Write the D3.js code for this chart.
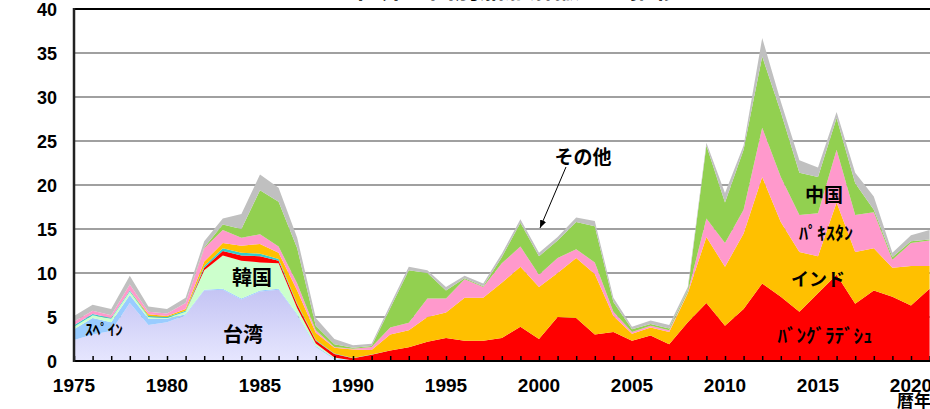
<!DOCTYPE html>
<html><head><meta charset="utf-8">
<script src="https://cdn.jsdelivr.net/npm/d3@7"></script>
<style>body{margin:0;background:#fff;overflow:hidden}svg{display:block}</style>
</head><body>
<script>
// ---- data (million GT) ----
const years = d3.range(1975, 2022);
const taiwan     = [2.4,3.0,3.4,6.6,4.1,4.4,5.2,8.0,8.1,7.0,7.9,8.1,5.2,1.6,0.2,0,0,0,0,0,0,0,0,0,0,0,0,0,0,0,0,0,0,0,0,0,0,0,0,0,0,0,0,0,0,0,0];
const spain      = [1.2,1.9,1.0,0.9,0.7,0.4,0.1,0.1,0.1,0.1,0.1,0.1,0.1,0.1,0.1,0.05,0,0,0,0,0,0,0,0,0,0,0,0,0,0,0,0,0,0,0,0,0,0,0,0,0,0,0,0,0,0,0];
const korea      = [0.3,0.3,0.4,0.4,0.2,0.1,0.3,2.2,3.8,4.3,3.2,2.9,0.7,0.3,0.1,0,0,0,0,0,0,0,0,0,0,0,0,0,0,0,0,0,0,0,0,0,0,0,0,0,0,0,0,0,0,0,0];
const bangladesh = [0,0,0,0,0,0,0,0.3,0.5,0.6,0.7,0.3,0.4,0.3,0.4,0.25,0.7,1.2,1.55,2.2,2.6,2.3,2.3,2.6,3.9,2.5,5.0,4.9,3.0,3.3,2.3,2.9,1.9,4.4,6.6,4.0,5.9,8.8,7.3,5.6,7.7,9.8,6.5,8.0,7.3,6.3,8.2];
const turkey     = [0.15,0.15,0.1,0.1,0.1,0.1,0.1,0.2,0.3,0.3,0.3,0.2,0.1,0.1,0.05,0.05,0.05,0,0,0,0,0,0,0,0,0,0,0,0,0,0,0,0,0,0,0,0,0,0,0,0,0,0,0,0,0,0];
const india      = [0,0,0,0,0.2,0.1,0.2,0.5,0.6,0.8,1.1,0.7,1.5,0.8,0.65,0.95,0.5,1.8,1.95,2.8,2.9,4.9,4.9,6.3,6.8,5.9,5.0,6.8,6.9,1.8,0.8,0.9,1.4,3.3,7.5,6.7,8.6,12.1,8.5,6.8,4.2,8.2,5.9,4.8,3.3,4.5,2.6];
const pakistan   = [0.45,0.35,0.3,0.7,0.3,0.3,0.7,1.5,1.5,0.9,1.1,0.7,0.8,0.3,0.1,0.1,0.35,0.8,0.85,2.1,1.6,2.1,1.2,2.2,2.3,1.4,1.7,1.0,1.3,0.5,0.2,0.2,0.2,0.1,2.1,2.7,2.7,5.6,5.1,4.2,4.9,6.0,4.2,4.1,0.9,2.6,2.9];
const china      = [0,0,0,0,0,0,0,0.1,0.6,1.0,5.0,5.1,4.0,0.5,0.3,0.1,0.1,2.2,5.95,2.9,0.9,0.1,0.1,0.7,2.7,2.1,2.0,3.1,4.1,1.1,0.3,0.2,0.2,0.2,8.3,4.6,6.8,8.1,7.4,4.8,4.1,3.6,3.6,0.3,0.3,0.2,0.1];
const others     = [0.6,0.7,0.7,1.0,0.6,0.5,0.6,0.7,0.7,1.7,1.8,1.6,1.2,0.9,0.6,0.3,0.25,0.4,0.4,0.3,0.4,0.3,0.3,0.4,0.4,0.4,0.4,0.5,0.6,0.5,0.3,0.4,0.4,0.4,0.3,1.1,0.5,2.1,1.2,1.4,1.1,0.7,1.2,1.5,0.5,0.7,1.1];
const yTicks = [0,5,10,15,20,25,30,35,40];
const xTicks = [1975,1980,1985,1990,1995,2000,2005,2010,2015,2020];

const seriesList = [
  {key:"台湾", values:taiwan, color:"url(#gTaiwan)"},
  {key:"スペイン", values:spain, color:"#99ccff"},
  {key:"韓国", values:korea, color:"#ccffcc"},
  {key:"バングラデシュ", values:bangladesh, color:"#ff0000"},
  {key:"トルコ", values:turkey, color:"#33cccc"},
  {key:"インド", values:india, color:"#ffc000"},
  {key:"パキスタン", values:pakistan, color:"#ff99cc"},
  {key:"中国", values:china, color:"#92d050"},
  {key:"その他", values:others, color:"#c0c0c0"}
];
const rows = years.map((y,i)=>{const r={year:y}; seriesList.forEach(s=>r[s.key]=s.values[i]); return r;});

const W=930,H=409;
const svg=d3.select("body").append("svg").attr("width",W).attr("height",H);
const defs=svg.append("defs");
const g1=defs.append("linearGradient").attr("id","gTaiwan").attr("x1",0).attr("y1",0).attr("x2",0).attr("y2",1);
g1.append("stop").attr("offset","0%").attr("stop-color","#c4c4f4");
g1.append("stop").attr("offset","100%").attr("stop-color","#e6e6fe");
defs.append("marker").attr("id","arr").attr("viewBox","0 0 10 10").attr("refX",10).attr("refY",5)
  .attr("markerWidth",8).attr("markerHeight",8).attr("orient","auto")
  .append("path").attr("d","M0,1 L10,5 L0,9 z").attr("fill","#000");

const x=d3.scaleLinear().domain([1975,2021]).range([74,929.6]);
const y=d3.scaleLinear().domain([0,40]).range([361,9]);

// title (mostly cut off at top, as in the reference)
svg.append("text").attr("x",517).attr("y",-2).attr("text-anchor","middle")
  .attr("font-family","Noto Sans CJK JP").attr("font-weight",700).attr("font-size",25)
  .text("世界の国別船舶解撤量の推移");

// gridlines
svg.append("g").selectAll("line").data(yTicks.filter(d=>d>0)).join("line")
  .attr("x1",74).attr("x2",W).attr("y1",d=>y(d)).attr("y2",d=>y(d))
  .attr("stroke",d=>d===40?"#000":"#808080").attr("stroke-width",d=>d===40?2:1.5);

const stack=d3.stack().keys(seriesList.map(s=>s.key));
const layers=stack(rows);
const area=d3.area().x(d=>x(d.data.year)).y0(d=>y(d[0])).y1(d=>y(d[1]));
svg.append("g").selectAll("path").data(layers).join("path")
  .attr("d",area).attr("fill",(d,i)=>seriesList[i].color);

// axes
const xAxis=d3.axisBottom(x).tickValues(years).tickSize(-5).tickFormat("");
const gx=svg.append("g").attr("transform","translate(0,361)").call(xAxis);
gx.select(".domain").remove();
gx.selectAll(".tick line").attr("stroke","#000").attr("stroke-width",1.5);
svg.append("line").attr("x1",73).attr("x2",W).attr("y1",361).attr("y2",361).attr("stroke","#000").attr("stroke-width",2);
svg.append("line").attr("x1",74).attr("x2",74).attr("y1",8).attr("y2",362).attr("stroke","#222").attr("stroke-width",2.5);

svg.append("g").selectAll("text").data(yTicks).join("text")
  .attr("x",57).attr("y",d=>y(d)+6.5).attr("text-anchor","end")
  .attr("font-family","Liberation Sans").attr("font-weight",700).attr("font-size",18)
  .text(d=>d);
svg.append("g").selectAll("text").data(xTicks).join("text")
  .attr("x",d=>x(d)).attr("y",392).attr("text-anchor","middle")
  .attr("font-family","Liberation Sans").attr("font-weight",700).attr("font-size",19)
  .text(d=>d);
svg.append("text").attr("x",897).attr("y",407).attr("font-family","Noto Sans CJK JP").attr("font-weight",700).attr("font-size",17).text("暦年");

// series labels
const labels=[
  {t:"ｽﾍﾟｲﾝ",x:104,y:335,s:15},
  {t:"台湾",x:243,y:342,s:20},
  {t:"韓国",x:252,y:285,s:20},
  {t:"その他",x:583,y:164,s:19},
  {t:"中国",x:824,y:202,s:19},
  {t:"ﾊﾟｷｽﾀﾝ",x:826,y:240,s:18},
  {t:"インド",x:818,y:286,s:18},
  {t:"ﾊﾞﾝｸﾞﾗﾃﾞｼｭ",x:825,y:343,s:19}
];
svg.append("g").selectAll("text").data(labels).join("text")
  .attr("x",d=>d.x).attr("y",d=>d.y).attr("text-anchor","middle")
  .attr("font-family","Noto Sans CJK JP").attr("font-weight",700).attr("font-size",d=>d.s)
  .text(d=>d.t);
svg.append("line").attr("x1",566).attr("y1",167).attr("x2",540).attr("y2",228)
  .attr("stroke","#000").attr("stroke-width",1).attr("marker-end","url(#arr)");
</script>
</body></html>
